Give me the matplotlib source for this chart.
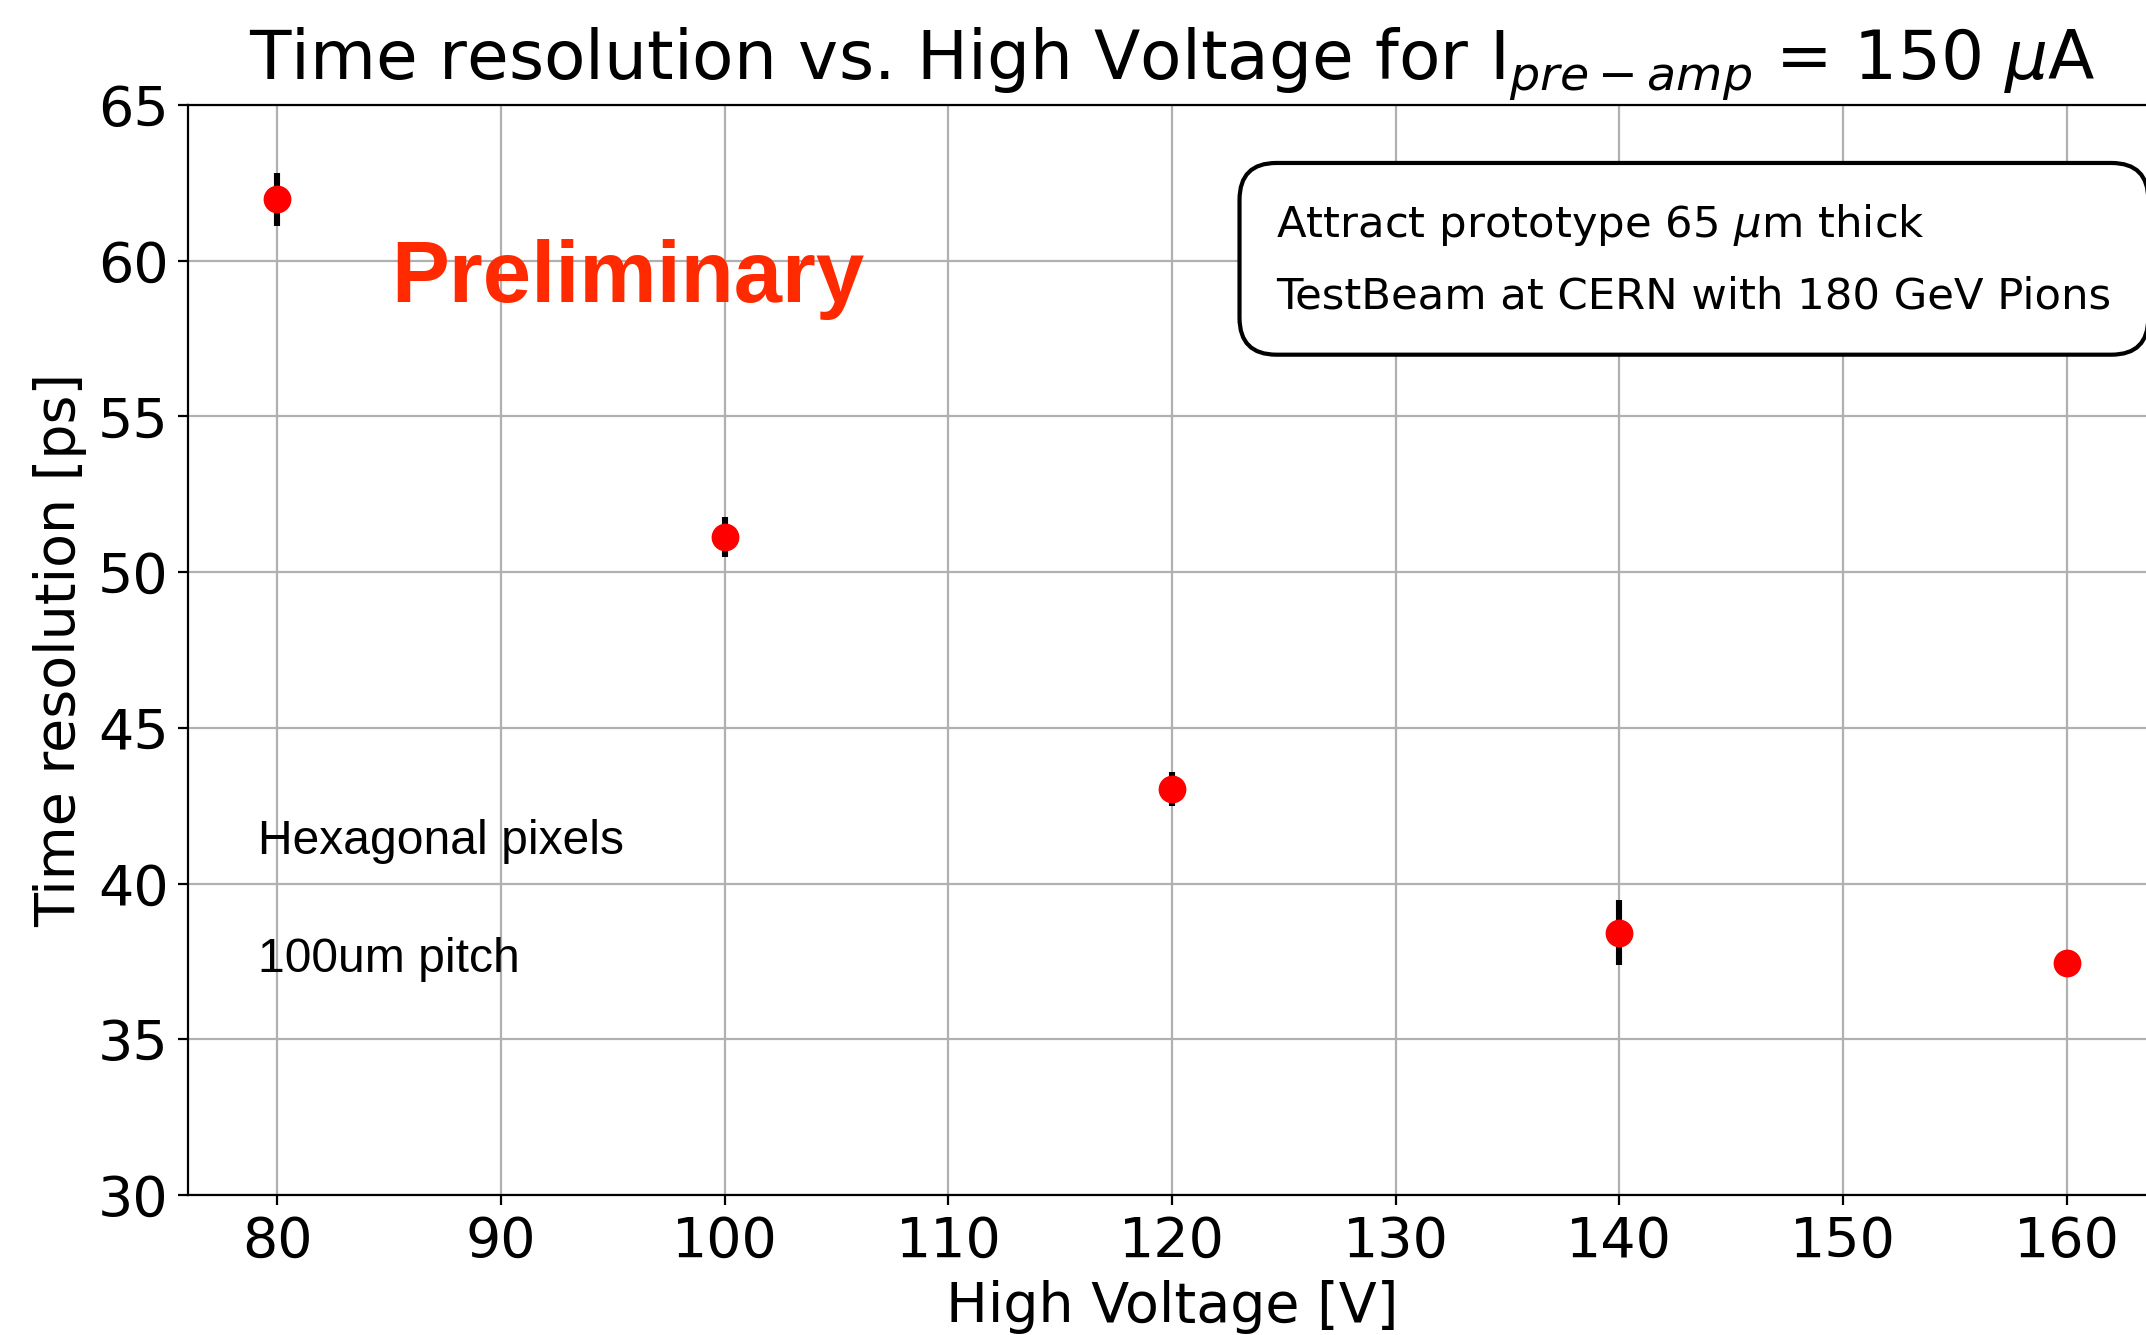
import matplotlib
matplotlib.use("Agg")
from matplotlib import pyplot as plt

# data
hv = [80, 100, 120, 140, 160]
time_res = [61.97, 51.12, 43.03, 38.42, 37.44]
time_err = [0.84, 0.64, 0.54, 1.04, 0.15]

fig = plt.figure(figsize=(10.73, 6.675), dpi=200)
ax = fig.add_axes([0.0876, 0.1049, 0.9171, 0.8164])

ax.errorbar(hv, time_res, yerr=time_err, fmt="o", color="red", markersize=9,
            ecolor="black", elinewidth=2.2, capsize=0, zorder=3)

ax.set_ylim(30, 65)
ax.set_xticks([80, 90, 100, 110, 120, 130, 140, 150, 160])
ax.grid(True)
ax.tick_params(labelsize=20)
ax.set_xlabel("High Voltage [V]", fontsize=20, labelpad=4)
ax.set_ylabel("Time resolution [ps]", fontsize=20)
ax.set_title(r"Time resolution vs. High Voltage for $\mathrm{I}_{pre-amp}$ = 150 $\mu$A",
             fontsize=24.4, pad=9)

ax.text(85.1, 58.67, "Preliminary", color="#ff2a00", fontsize=31.3, fontweight="bold",
        family="Liberation Sans", va="baseline")
ax.text(79.15, 40.95, "Hexagonal pixels", fontsize=17.3, family="Liberation Sans")
ax.text(79.15, 37.17, "100um pitch", fontsize=17.3, family="Liberation Sans")

ax.text(0.553, 0.858, "Attract prototype 65 $\\mu$m thick\nTestBeam at CERN with 180 GeV Pions",
        transform=ax.transAxes, fontsize=15.6, linespacing=1.85, va="center",
        bbox=dict(boxstyle="round,pad=0.85", facecolor="white", edgecolor="black", linewidth=1.5))

fig.savefig("out.png", dpi=200)
